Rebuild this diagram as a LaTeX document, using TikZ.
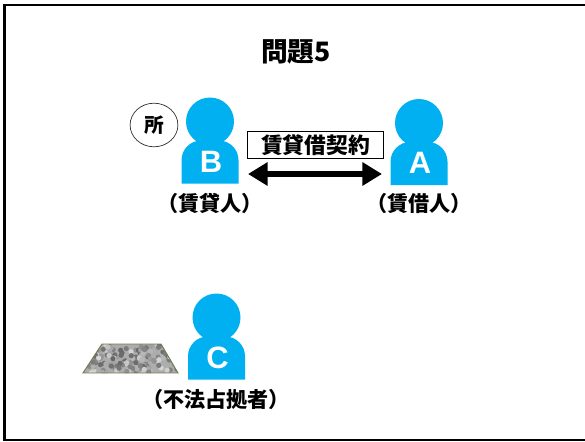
\documentclass[tikz,border=0pt]{standalone}
\usepackage{fontspec}
\usetikzlibrary{arrows.meta,shapes.geometric}
\setmainfont{Liberation Sans}
\newfontfamily\cjk{Noto Sans CJK JP}
\definecolor{personblue}{HTML}{00B0F0}
\definecolor{lotedge}{HTML}{6E7F50}
\tikzset{
  cjklabel/.style={font=\cjk\bfseries\fontsize{15}{15}\selectfont,inner sep=0pt},
  personletter/.style={text=white,font=\bfseries\fontsize{22}{22}\selectfont,inner sep=0pt},
  contractarrow/.style={line width=4.8pt,{Triangle[length=14pt,width=16pt]}-{Triangle[length=14pt,width=16pt]}}
}
% head and body around (#2,#3), letter as node #1
\newcommand{\person}[3]{
  \begin{scope}[shift={(#2,#3)}]
    \fill[personblue] (0,0) circle[radius=24];
    \fill[personblue] (-28.5,62) [rounded corners=14pt] -- (-28.5,19) -- (28.5,19) [sharp corners] -- (28.5,62) -- cycle;
    \node[personletter] (#1) at (1,40) {#1};
  \end{scope}
}
\begin{document}
\begin{tikzpicture}[x=0.025cm,y=-0.025cm]
  \useasboundingbox (0,0) rectangle (585,441);
  % frame, open on the right
  \draw[line width=1.9pt] (585,5)--(4.5,5)--(4.5,440)--(585,440);
  \node[cjklabel,font=\cjk\bfseries\fontsize{19}{19}\selectfont] (title) at (296,52) {問題5};
  \person{B}{210}{121.5}
  \person{A}{419}{123}
  \person{C}{216.5}{317.5}
  % owner mark
  \node[draw=black!80,fill=white,ellipse,line width=0.5pt,minimum width=34pt,minimum height=31pt,inner sep=0pt,cjklabel,font=\cjk\bfseries\fontsize{14}{14}\selectfont] (owner) at (154,125) {所};
  % contract
  \node[draw,line width=0.7pt,minimum width=97pt,minimum height=19.5pt,inner sep=0pt,cjklabel,font=\cjk\bfseries\fontsize{15.5}{15.5}\selectfont] (contract) at (315.5,145) {賃貸借契約};
  \coordinate (endB) at (248,174);
  \coordinate (endA) at (382,174);
  \draw[contractarrow] (endB)--(endA);
  \node[cjklabel] (labelB) at (210,203) {（賃貸人）};
  \node[cjklabel] (labelA) at (419,203) {（賃借人）};
  \node[cjklabel] (labelC) at (216,399) {（不法占拠者）};
  % lot with rough surface
  \begin{scope}
    \clip (102,344)--(161,344)--(178,373)--(83,373)--cycle;
    \fill[black!32] (83,344) rectangle (178,373);
    \pgfmathsetseed{5}
    \foreach \i in {1,...,170} {
      \pgfmathsetmacro{\px}{83+95*rnd}
      \pgfmathsetmacro{\py}{344+29*rnd}
      \pgfmathsetmacro{\shade}{15+45*rnd}
      \fill[black!\shade] (\px,\py) circle[radius=2.6];
    }
  \end{scope}
  \draw[lotedge,line width=0.7pt] (102,344)--(161,344)--(178,373)--(83,373)--cycle;
\end{tikzpicture}
\end{document}
